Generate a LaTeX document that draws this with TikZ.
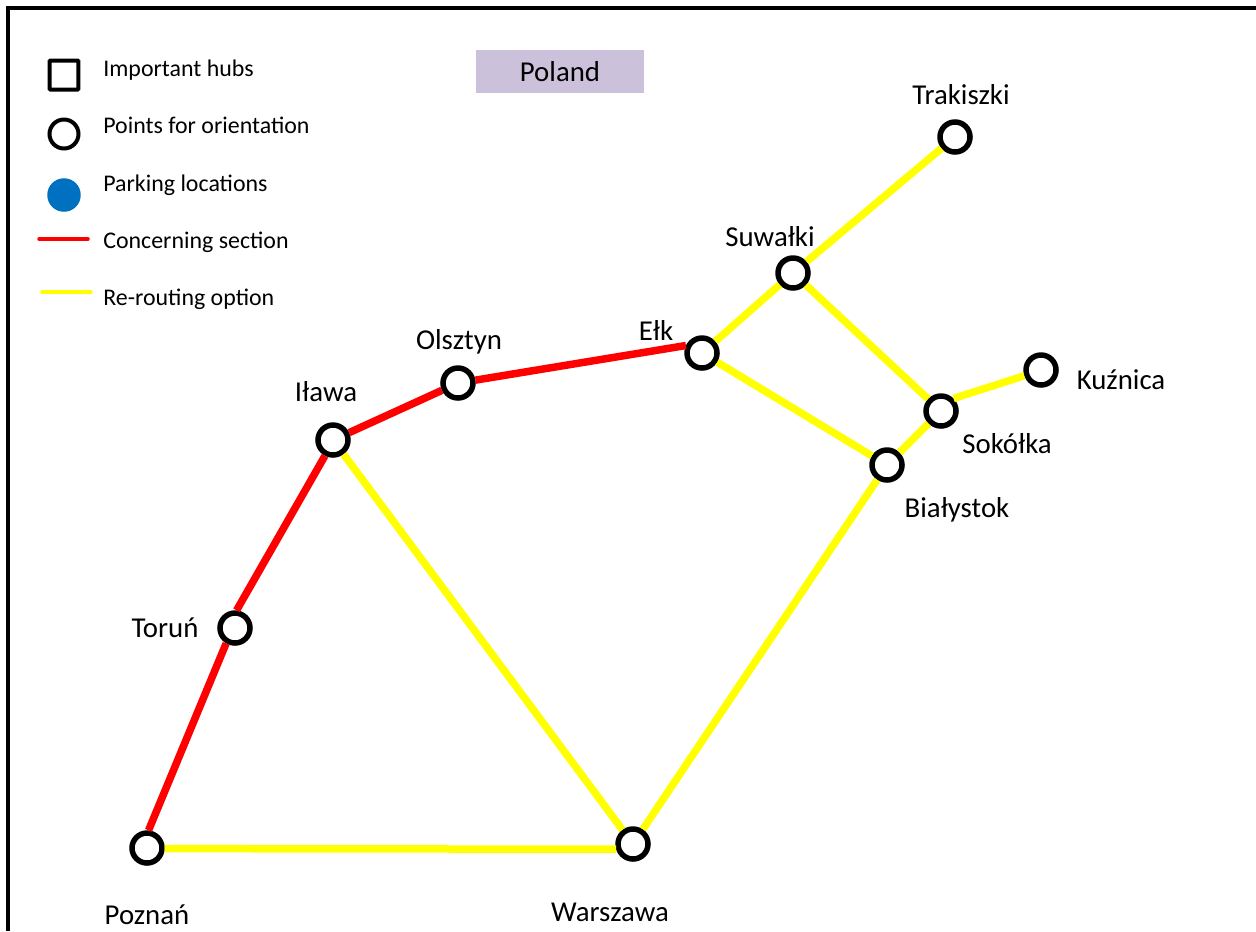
\documentclass[tikz,border=0pt]{standalone}
\usepackage{fontspec}
\setmainfont{Carlito}
\definecolor{parkblue}{HTML}{0070C0}
\definecolor{titlebox}{HTML}{CCC1DA}
\definecolor{linered}{HTML}{FF0000}
\definecolor{lineyellow}{HTML}{FFFF00}

\begin{document}
\begin{tikzpicture}[x=0.02cm, y=-0.02cm]
\tikzstyle{city}=[circle, minimum size = 0.6cm, inner sep = 0pt, line width = 0.11cm, draw = black, fill = white]
\tikzstyle{hub}=[rectangle, minimum size = 0.58cm, inner sep = 0pt, line width = 0.08cm, draw = black, rounded corners = 0.5pt]
\tikzstyle{park}=[circle, minimum size = 0.67cm, inner sep = 0pt, fill = parkblue]
\tikzstyle{place}=[font = \fontsize{16.4}{18}\selectfont, inner sep = 0pt]
\tikzstyle{legend}=[font = \fontsize{13.6}{15}\selectfont, inner sep = 0pt, anchor = base west]
\tikzstyle{concern}=[linered, line width = 0.15cm]
\tikzstyle{reroute}=[lineyellow, line width = 0.15cm]

  \useasboundingbox (0,0) rectangle (1256,931);

  % frame
  \coordinate (fa) at (8,931);
  \coordinate (fb) at (8,8);
  \coordinate (fc) at (1256,8);
  \draw[black, line width = 0.07cm] (fa) -- (fb) -- (fc);

  % legend
  \node[hub]  (khub)  at (64,75)  {};
  \node[city, minimum size = 0.58cm, line width = 0.08cm] (kcity) at (64,134) {};
  \node[park] (kpark) at (64,195) {};
  \coordinate (kr1) at (39,239);
  \coordinate (kr2) at (88,239);
  \coordinate (ky1) at (42,292);
  \coordinate (ky2) at (91,292);
  \draw[linered, line width = 0.07cm, line cap = round] (kr1) -- (kr2);
  \draw[lineyellow, line width = 0.07cm, line cap = round] (ky1) -- (ky2);
  \node[legend] (lhub)  at (103,76)  {Important hubs};
  \node[legend] (lcity) at (103,133) {Points for orientation};
  \node[legend] (lpark) at (103,191) {Parking locations};
  \node[legend] (lred)  at (103,248) {Concerning section};
  \node[legend] (lyel)  at (103,305) {Re-routing option};

  \node[fill = titlebox, minimum width = 3.36cm, minimum height = 0.86cm, place] (title) at (560,71.5) {Poland};

  % cities
  \node[city] (trak) at (955,137) {};
  \node[city] (suwa) at (793,273) {};
  \node[city] (elk)  at (702,353) {};
  \node[city] (olsz) at (458,383) {};
  \node[city] (ilaw) at (333,440) {};
  \node[city] (toru) at (235,628) {};
  \node[city] (pozn) at (147,848) {};
  \node[city] (wars) at (633,844) {};
  \node[city] (bial) at (887,465) {};
  \node[city] (soko) at (941,411) {};
  \node[city] (kuzn) at (1041,370) {};

  \node[place] (ltrak) at (961,95)  {Trakiszki};
  \node[place] (lsuwa) at (770,237) {Suwałki};
  \node[place] (lelk)  at (656,330) {Ełk};
  \node[place] (lolsz) at (459,342) {Olsztyn};
  \node[place] (lilaw) at (326,392) {Iława};
  \node[place] (ltoru) at (165,628) {Toruń};
  \node[place] (lpozn) at (147,915) {Poznań};
  \node[place] (lwars) at (610,912) {Warszawa};
  \node[place] (lbial) at (957,510) {Białystok};
  \node[place] (lsoko) at (1007,444) {Sokółka};
  \node[place] (lkuzn) at (1121,380) {Kuźnica};

  \path (pozn.85)  edge [concern] (toru.240)
        (toru.85)  edge [concern] (ilaw.243)
        (ilaw)     edge [concern] (olsz)
        (olsz)     edge [concern] (elk.155)
        (ilaw)     edge [reroute] (wars)
        (pozn.358) edge [reroute] (wars.197)
        (wars)     edge [reroute] (bial)
        (bial)     edge [reroute] (soko)
        (bial)     edge [reroute] (elk)
        (elk)      edge [reroute] (suwa)
        (suwa)     edge [reroute] (trak)
        (suwa)     edge [reroute] (soko)
        (soko.45)  edge [reroute] (kuzn.199);

\end{tikzpicture}
\end{document}
